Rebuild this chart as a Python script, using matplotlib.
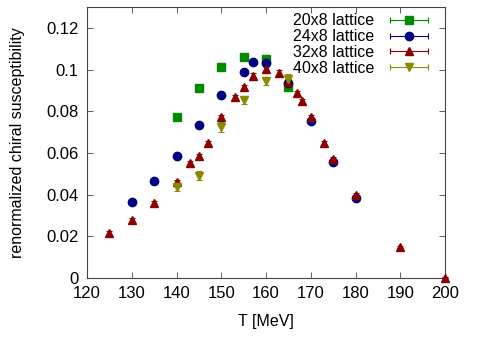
import matplotlib
matplotlib.use("Agg")
import matplotlib.pyplot as plt
from matplotlib.lines import Line2D
from matplotlib.legend_handler import HandlerLine2D, HandlerTuple

# --- data ---
t20 = [140, 145, 150, 155, 160, 165]
chi20 = [0.0772, 0.0912, 0.1012, 0.1060, 0.1050, 0.0916]
err20 = [0.0012, 0.0010, 0.0010, 0.0010, 0.0010, 0.0012]

t24 = [130, 135, 140, 145, 150, 155, 157, 160, 165, 170, 175, 180]
chi24 = [0.0365, 0.0465, 0.0585, 0.0734, 0.0880, 0.0989, 0.1036, 0.1030,
         0.0936, 0.0753, 0.0557, 0.0384]
err24 = [0.0008, 0.0008, 0.0008, 0.0010, 0.0010, 0.0010, 0.0010, 0.0010,
         0.0012, 0.0010, 0.0008, 0.0008]

t32 = [125, 130, 135, 140, 143, 145, 147, 150, 153, 155, 157, 160, 163,
       165, 167, 168, 170, 173, 175, 180, 190, 200]
chi32 = [0.0216, 0.0278, 0.0360, 0.0460, 0.0551, 0.0585, 0.0648, 0.0772,
         0.0870, 0.0916, 0.0970, 0.1003, 0.0985, 0.0940, 0.0888, 0.0850,
         0.0772, 0.0648, 0.0571, 0.0398, 0.0149, 0.0002]
err32 = [0.0010, 0.0010, 0.0010, 0.0012, 0.0010, 0.0010, 0.0010, 0.0012,
         0.0010, 0.0012, 0.0015, 0.0015, 0.0012, 0.0015, 0.0010, 0.0010,
         0.0012, 0.0008, 0.0008, 0.0008, 0.0006, 0.0002]

t40 = [140, 145, 150, 155, 160, 165]
chi40 = [0.0437, 0.0490, 0.0725, 0.0854, 0.0945, 0.0955]
err40 = [0.0020, 0.0022, 0.0025, 0.0020, 0.0020, 0.0025]

labels = ["20x8 lattice", "24x8 lattice", "32x8 lattice", "40x8 lattice"]
xticks = [120, 130, 140, 150, 160, 170, 180, 190, 200]
yticks = [0, 0.02, 0.04, 0.06, 0.08, 0.1, 0.12]
yticklabels = ["0", "0.02", "0.04", "0.06", "0.08", "0.1", "0.12"]

plt.rcParams["font.family"] = ["Liberation Sans", "DejaVu Sans"]

fig = plt.figure(figsize=(4.8, 3.37), dpi=100)
ax = fig.add_axes([87 / 480, 1 - 278 / 337, (445 - 87) / 480, (278 - 7) / 337])

serier = [
    (t20, chi20, err20, "s", "#008a00", 5.6),
    (t24, chi24, err24, "o", "#000080", 6.0),
    (t32, chi32, err32, "^", "#8b0000", 5.6),
    (t40, chi40, err40, "v", "#8a8a00", 5.6),
]
handles = []
hmap = {}
for (t, chi, err, m, c, ms), lab in zip(serier, labels):
    ax.errorbar(t, chi, yerr=err, fmt=m, color=c, ms=ms, mec=c,
                elinewidth=0.8, capsize=2, capthick=0.8,
                clip_on=False, zorder=3)
    # gnuplot-style legend key: horizontal bar with end caps + marker
    bar = Line2D([], [], ls="-", lw=0.8, color=c, marker="|", ms=5, mew=0.8)
    dot = Line2D([], [], ls="none", marker=m, color=c, ms=ms, mec=c)
    hmap[bar] = HandlerLine2D(numpoints=2)
    hmap[dot] = HandlerLine2D(numpoints=1)
    handles.append((bar, dot))
hmap[tuple] = HandlerTuple(ndivide=1)

ax.set_xlim(120, 200)
ax.set_ylim(0, 0.13)
ax.set_xticks(xticks)
ax.set_yticks(yticks)
ax.set_yticklabels(yticklabels)
ax.tick_params(direction="in", top=True, right=True, length=4, width=0.6,
               color="#444444", labelsize=12, pad=6)
for s in ax.spines.values():
    s.set_color("#444444")
    s.set_linewidth(0.8)

ax.set_xlabel("T [MeV]", fontsize=11.5, labelpad=9)
ax.set_ylabel("renormalized chiral susceptibility", fontsize=11.5, labelpad=15)

ax.legend(handles=handles, labels=labels, handler_map=hmap, loc="upper right",
          bbox_to_anchor=(0.985, 1.0), frameon=False, markerfirst=False,
          handlelength=3.0, handletextpad=0.7, labelspacing=0.05,
          borderaxespad=0.0, fontsize=11.5)

fig.savefig("out.png", dpi=100)
